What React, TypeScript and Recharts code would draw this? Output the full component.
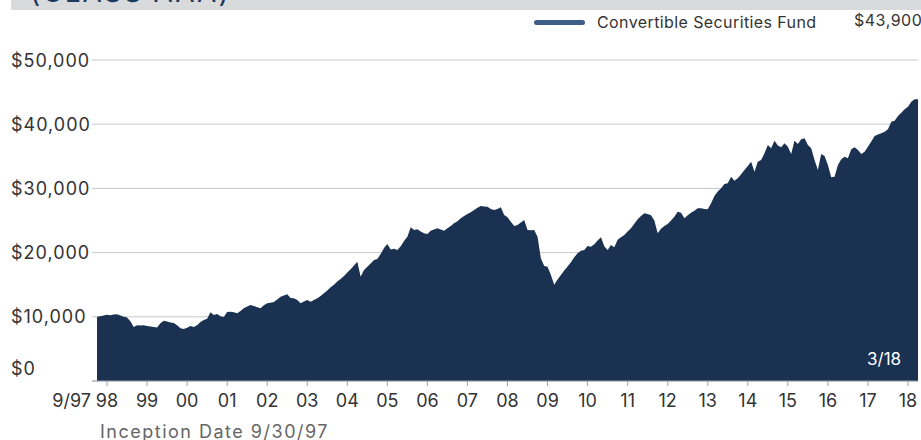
import { AreaChart, Area, XAxis, YAxis, CartesianGrid } from "recharts"

// growth of $10,000, month-end values from 9/97 through 3/18
const values = [
  10000, 10100, 10200, 10300, 10250, 10350, 10400, 10200, 10000, 9900, 9300, 8400,
  8700, 8650, 8700, 8570, 8500, 8400, 8350, 9000, 9390, 9250, 9100, 9030,
  8700, 8200, 8100, 8300, 8570, 8400, 8700, 9190, 9500, 9700, 10700, 10280,
  10440, 10100, 9970, 10750, 10800, 10700, 10540, 10900, 11320, 11600, 11840, 11680,
  11500, 11320, 11800, 12100, 12200, 12300, 12700, 13130, 13300, 13500, 12930, 12900,
  12600, 12100, 12400, 12620, 12350, 12600, 12880, 13250, 13660, 14100, 14600, 15000,
  15480, 15900, 16350, 16900, 17400, 18000, 18580, 16250, 17290, 17800, 18300, 18850,
  19000, 19800, 20700, 21340, 20500, 20600, 20400, 21000, 21800, 22480, 23940, 23520,
  23630, 23300, 23000, 22900, 23410, 23600, 23790, 23600, 23410, 23800, 24140, 24560,
  24900, 25340, 25700, 26010, 26300, 26630, 27000, 27260, 27200, 27150, 26800, 26630,
  26800, 27050, 25860, 25500, 24810, 24140, 24300, 24700, 25080, 23520, 23500, 23520,
  22480, 19110, 17910, 17800, 16510, 15000, 15800, 16510, 17200, 17850, 18500, 19270,
  19900, 20300, 20400, 21030, 20900, 21300, 21900, 22380, 21000, 20400, 21180, 20830,
  22000, 22400, 22740, 23300, 23790, 24500, 25190, 25700, 26120, 26010, 25800, 25000,
  23000, 23700, 24140, 24450, 25000, 25600, 26370, 26210, 25340, 25800, 26200, 26530,
  26900, 26890, 26800, 26740, 27680, 28820, 29500, 30010, 30680, 30790, 31820, 31200,
  31570, 32200, 32870, 33500, 34160, 32610, 34160, 34420, 35460, 36760, 36240, 37430,
  36700, 36400, 37020, 36500, 35360, 37430, 36920, 37650, 37800, 36760, 36240, 34420,
  32870, 35360, 35050, 33640, 31730, 31820, 33640, 34530, 34940, 34690, 36090, 36400,
  35980, 35360, 35700, 36500, 37300, 38160, 38400, 38580, 38830, 39200, 40390, 40550,
  41280, 41800, 42320, 42730, 43500, 43880, 43900,
]

// month index 0 = 9/97; year ticks sit at each December
const tickMonths = [0, 3, 15, 27, 39, 51, 63, 75, 87, 99, 111, 123, 135, 147, 159, 171, 183, 195, 207, 219, 231, 243]
const tickLabels = ["9/97", "98", "99", "00", "01", "02", "03", "04", "05", "06", "07", "08", "09", "10", "11", "12", "13", "14", "15", "16", "17", "18"]
const yTicks = [0, 10000, 20000, 30000, 40000, 50000]

const data = values.map((v, m) => ({ m, v }))

const FONT = "Inter, 'Open Sans', sans-serif"
const NAVY = "#1a3151"

function XTick({ x, y, payload }: any) {
  const i = tickMonths.indexOf(payload.value)
  const first = i === 0
  return (
    <g>
      {!first && <line x1={x} x2={x} y1={y - 7} y2={y - 2} stroke="#9aa3ad" />}
      <text
        x={first ? x - 6 : x}
        y={y}
        dy={19}
        textAnchor={first ? "end" : "middle"}
        fontSize={18}
        fill="#333"
        fontFamily={FONT}
      >
        {tickLabels[i]}
      </text>
    </g>
  )
}

function YTick({ y, payload }: any) {
  return (
    <text
      x={11}
      y={y}
      dy={payload.value === 0 ? -13 : 0}
      dominantBaseline="central"
      textAnchor="start"
      fontSize={18}
      letterSpacing={1}
      fill="#333"
      fontFamily={FONT}
    >
      {"$" + payload.value.toLocaleString("en-US")}
    </text>
  )
}

export default function App() {
  return (
    <div style={{ position: "absolute", left: 0, top: 0, width: 921, height: 440, overflow: "hidden", background: "#fff", fontFamily: FONT }}>
      <div style={{ position: "absolute", left: 11, top: 0, right: 0, height: 10, background: "#d9dadc", overflow: "hidden" }}>
        <div style={{ position: "absolute", left: 19, top: -25, fontSize: 28, letterSpacing: 2, color: "#1c3a5e", whiteSpace: "nowrap", lineHeight: "34px" }}>
          (CLASS AAA)
        </div>
      </div>

      <div style={{ position: "absolute", left: 534, top: 19.5, width: 51, height: 5, borderRadius: 3, background: "#3d5f86" }} />
      <div style={{ position: "absolute", left: 597, top: 12, fontSize: 16, letterSpacing: 0.4, color: "#333", lineHeight: "20px", whiteSpace: "nowrap" }}>
        Convertible Securities Fund
      </div>
      <div style={{ position: "absolute", left: 854, top: 10, fontSize: 16, letterSpacing: 0.5, color: "#333", lineHeight: "20px", whiteSpace: "nowrap" }}>
        $43,900
      </div>

      <AreaChart width={921} height={440} data={data} margin={{ top: 60, right: 3, bottom: 29, left: 0 }}>
        <CartesianGrid vertical={false} stroke="#c8c8c8" />
        <XAxis
          type="number"
          dataKey="m"
          domain={[0, 246]}
          ticks={tickMonths}
          interval={0}
          padding={{ left: 5, right: 0 }}
          height={30}
          tickLine={false}
          axisLine={{ stroke: "#9aa3ad" }}
          tick={<XTick />}
          tickSize={5}
          tickMargin={2}
        />
        <YAxis
          type="number"
          domain={[0, 50000]}
          ticks={yTicks}
          width={92}
          axisLine={false}
          tickLine={false}
          tick={<YTick />}
        />
        <Area type="linear" dataKey="v" stroke="none" fill={NAVY} fillOpacity={1} isAnimationActive={false} />
      </AreaChart>

      <div style={{ position: "absolute", left: 867, top: 349, fontSize: 17, color: "#fff", lineHeight: "20px" }}>3/18</div>
      <div style={{ position: "absolute", left: 100, top: 422, fontSize: 18, letterSpacing: 1.5, color: "#666", lineHeight: "20px", whiteSpace: "nowrap" }}>
        Inception Date 9/30/97
      </div>
    </div>
  )
}
